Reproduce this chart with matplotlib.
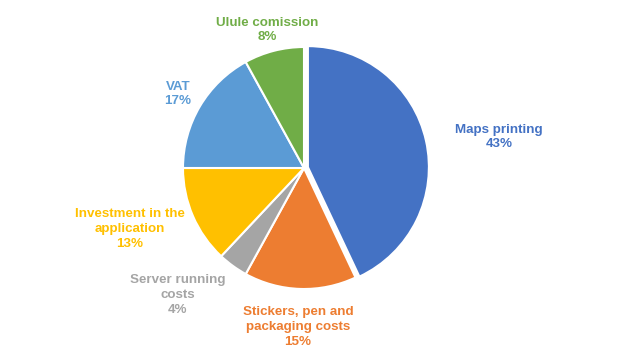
import matplotlib
matplotlib.use('Agg')
from matplotlib import pyplot as plt

categories = ["Maps printing", "Stickers, pen and\npackaging costs", "Server running\ncosts",
              "Investment in the\napplication", "VAT", "Ulule comission"]
shares = [43, 15, 4, 13, 17, 8]
colors = ["#4472C4", "#ED7D31", "#A5A5A5", "#FFC000", "#5B9BD5", "#70AD47"]

# label centres in pixel coords (x, y from top)
label_pos = [(499, 137), (298, 327), (178, 295), (130, 229), (178, 94), (267, 30)]

W, H = 640, 363
fig = plt.figure(figsize=(6.4, 3.63), dpi=100)
ax = fig.add_axes([0, 0, 1, 1])

ax.pie(shares, colors=colors, startangle=90, counterclock=False,
       center=(304, H - 168), radius=121, explode=[4, 0, 0, 0, 0, 0],
       wedgeprops=dict(edgecolor='white', linewidth=1.5), frame=True)
ax.set_xlim(0, W)
ax.set_ylim(0, H)
ax.set_aspect('equal')
ax.axis('off')

for name, val, col, (x, y) in zip(categories, shares, colors, label_pos):
    ax.text(x, H - y, f"{name}\n{val}%", color=col, ha='center', va='center',
            fontsize=9.6, fontweight='bold', family='Liberation Sans',
            linespacing=1.3)

plt.savefig("out.png", dpi=100)
